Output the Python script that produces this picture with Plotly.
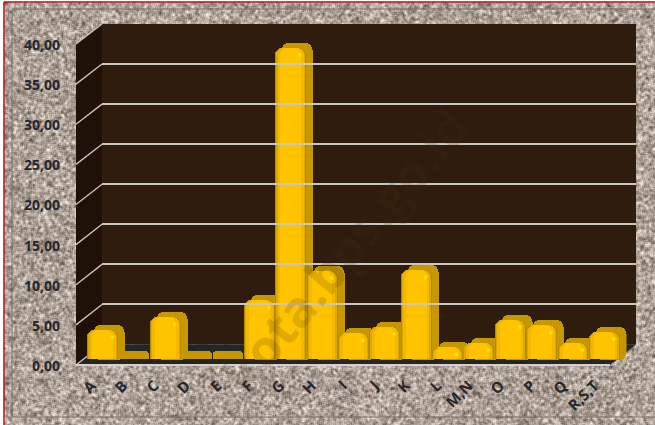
import base64, struct, zlib
import numpy as np
import plotly.graph_objects as go

# ---- data ----
categories = ["A", "B", "C", "D", "E", "F", "G", "H", "I", "J", "K", "L", "M,N", "O", "P", "Q", "R,S,T"]
values = [3.6, 0.35, 5.2, 0.45, 0.4, 7.3, 38.8, 11.0, 3.2, 4.0, 11.1, 1.5, 2.0, 4.9, 4.2, 2.0, 3.4]
y_ticks = [0, 5, 10, 15, 20, 25, 30, 35, 40]

W, H = 655, 425
idx = list(range(len(categories)))


def px(x):
    return x / W


def py(y):
    return 1 - y / H


# ---- stone texture for the chart area ----
rng = np.random.default_rng(7)
noise = rng.random((H + 8, W + 8))
blur = sum(np.roll(np.roll(noise, i, 0), j, 1) for i in range(3) for j in range(3)) / 9
blur = blur[4:H + 4, 4:W + 4]
blur = (blur - blur.mean()) / blur.std()
base = np.array([174, 161, 151])
img = np.clip(base[None, None, :] + blur[:, :, None] * np.array([24, 24, 25]), 0, 255).astype(np.uint8)


def png_uri(a):
    h, w, _ = a.shape
    raw = b"".join(b"\x00" + a[r].tobytes() for r in range(h))

    def chunk(t, d):
        return struct.pack(">I", len(d)) + t + d + struct.pack(">I", zlib.crc32(t + d) & 0xffffffff)

    data = (b"\x89PNG\r\n\x1a\n" + chunk(b"IHDR", struct.pack(">IIBBBBB", w, h, 8, 2, 0, 0, 0))
            + chunk(b"IDAT", zlib.compress(raw, 6)) + chunk(b"IEND", b""))
    return "data:image/png;base64," + base64.b64encode(data).decode()


fig = go.Figure()

font = dict(family="Open Sans, sans-serif", size=14, color="#26262b", weight="bold")
xfont = dict(family="Open Sans, sans-serif", size=15, color="#26262b", weight="bold")
x_range = [-0.5, len(categories) - 0.5]
y_range = [0, 40]
depth = 0.7  # how far (in value units) the depth face reaches below the back baseline
flat_limit = 1  # bars below this value show only their top face

tall = [v if v > flat_limit else None for v in values]
flat = [v + 0.6 if v <= flat_limit else None for v in values]

# Depth faces of the bars (shifted back), then the front faces on top.
back_color = "#C79700"
fig.add_trace(go.Bar(x=idx, y=[None if v is None else v + depth for v in tall], base=-depth, width=0.98,
                     marker=dict(color=back_color, cornerradius=7, line_width=0),
                     xaxis="x2", yaxis="y2", showlegend=False))
for w, c in [(0.98, "#B58A00"), (0.92, "#DDA800"), (0.84, "#F5B800"), (0.66, "#FFC300")]:
    fig.add_trace(go.Bar(x=idx, y=tall, width=w, marker=dict(color=c, cornerradius=7, line_width=0),
                         xaxis="x3", yaxis="y3", showlegend=False))
fig.add_trace(go.Bar(x=idx, y=flat, width=0.98, marker=dict(color=back_color, cornerradius=4, line_width=0),
                     xaxis="x3", yaxis="y3", showlegend=False))
glare = [i for i, v in zip(idx, values) if v > flat_limit]
fig.add_trace(go.Scatter(x=[i + 0.3 for i in glare], y=[values[i] - 0.9 for i in glare], mode="markers",
                         marker=dict(size=4, color="#FFE000", line_width=0), xaxis="x3", yaxis="y3",
                         showlegend=False, hoverinfo="skip"))

# Invisible traces keeping the front-plane and back-wall axes alive.
fig.add_trace(go.Scatter(x=idx, y=values, mode="markers", marker=dict(opacity=0), xaxis="x", yaxis="y",
                         showlegend=False, hoverinfo="skip"))
fig.add_trace(go.Scatter(x=idx, y=values, mode="markers", marker=dict(opacity=0), xaxis="x4", yaxis="y4",
                         showlegend=False, hoverinfo="skip"))

fig.update_layout(
    # Front plane: holds the tick labels.
    xaxis=dict(domain=[px(76), px(610)], range=x_range, tickmode="array", tickvals=idx, ticktext=categories,
               tickangle=-45, tickfont=xfont, showgrid=False, zeroline=False, ticks="", anchor="y",
               showline=False, ticklabelstandoff=7, automargin=False),
    yaxis=dict(domain=[py(366), py(45)], range=y_range, tickmode="array", tickvals=y_ticks,
               tickformat=".2f", tickfont=font, showgrid=False, zeroline=False,
               ticks="", anchor="x", showline=False, ticklabelstandoff=15, automargin=False),
    # Back wall: gridlines.
    xaxis4=dict(domain=[px(102), px(636)], range=x_range, visible=False, anchor="y4"),
    yaxis4=dict(domain=[py(344.5), py(24)], range=y_range, tickmode="array", tickvals=y_ticks, showticklabels=False,
                showgrid=True, gridcolor="#C9C5BF", gridwidth=2, zeroline=False, ticks="", anchor="x4", showline=False),
    # Bar depth faces.
    xaxis2=dict(domain=[px(93.5), px(626.5)], range=x_range, visible=False, anchor="y2"),
    yaxis2=dict(domain=[py(370.05), py(33)], range=[-2, 40], visible=False, anchor="x2"),
    # Bar front faces.
    xaxis3=dict(domain=[px(86.8), px(619.8)], range=x_range, visible=False, anchor="y3"),
    yaxis3=dict(domain=[py(359), py(38)], range=y_range, visible=False, anchor="x3"),
    barmode="overlay", bargap=0,
    width=W, height=H, autosize=False, margin=dict(l=0, r=0, t=0, b=0, autoexpand=False),
    paper_bgcolor="white", plot_bgcolor="rgba(0,0,0,0)", separators=",.", showlegend=False,
    images=[dict(source=png_uri(img), xref="paper", yref="paper", x=0, y=1, sizex=1, sizey=1,
                 xanchor="left", yanchor="top", sizing="stretch", layer="below")],
)


def poly(points, fill):
    d = "M " + " L ".join(f"{px(a):.5f},{py(b):.5f}" for a, b in points) + " Z"
    return dict(type="path", path=d, xref="paper", yref="paper", fillcolor=fill, line_width=0, layer="below")


def seg(x0, y0, x1, y1, color, width):
    return dict(type="line", xref="paper", yref="paper", x0=px(x0), y0=py(y0), x1=px(x1), y1=py(y1),
                line=dict(color=color, width=width), layer="below")


shapes = [
    poly([(102, 24), (636, 24), (636, 344.5), (102, 344.5)], "#2E1C0F"),
    poly([(76, 44), (102, 24), (102, 344.5), (76, 365)], "#1F1107"),
    poly([(76, 365), (102, 344.5), (636, 344.5), (610, 365)], "#232527"),
]
for t in y_ticks:
    f = t / 40
    shapes.append(seg(76, 365 - f * 321, 102, 344.5 - f * 320.5, "#C9C5BF", 1.3))
shapes.append(seg(76, 365, 610, 365, "#D4D1CC", 2))
# Chart frame.
shapes += [
    seg(12, 9, 655, 9, "#77706A", 1),
    seg(12, 9, 12, 417, "#77706A", 1),
    seg(12, 417, 655, 417, "#77706A", 1),
    dict(type="rect", xref="paper", yref="paper", x0=0, x1=px(3.5), y0=0, y1=1, fillcolor="white", line_width=0,
         layer="below"),
    dict(type="rect", xref="paper", yref="paper", x0=0, x1=1, y0=py(1.5), y1=1, fillcolor="white", line_width=0,
         layer="below"),
    seg(4, 2, 655, 2, "#B4202A", 1.5),
    seg(4, 2, 4, 425, "#B4202A", 1.5),
]
fig.update_layout(shapes=shapes)

fig.add_annotation(text="kota.bps.go.id", xref="paper", yref="paper", x=px(345), y=py(250), showarrow=False,
                   textangle=-50, font=dict(family="Open Sans, sans-serif", size=50, weight="bold",
                                            color="rgba(70,50,10,0.17)"))

fig.write_html("out.html", config=dict(displayModeBar=False),
               post_script="document.body.style.margin='0';document.body.style.overflow='hidden';")
